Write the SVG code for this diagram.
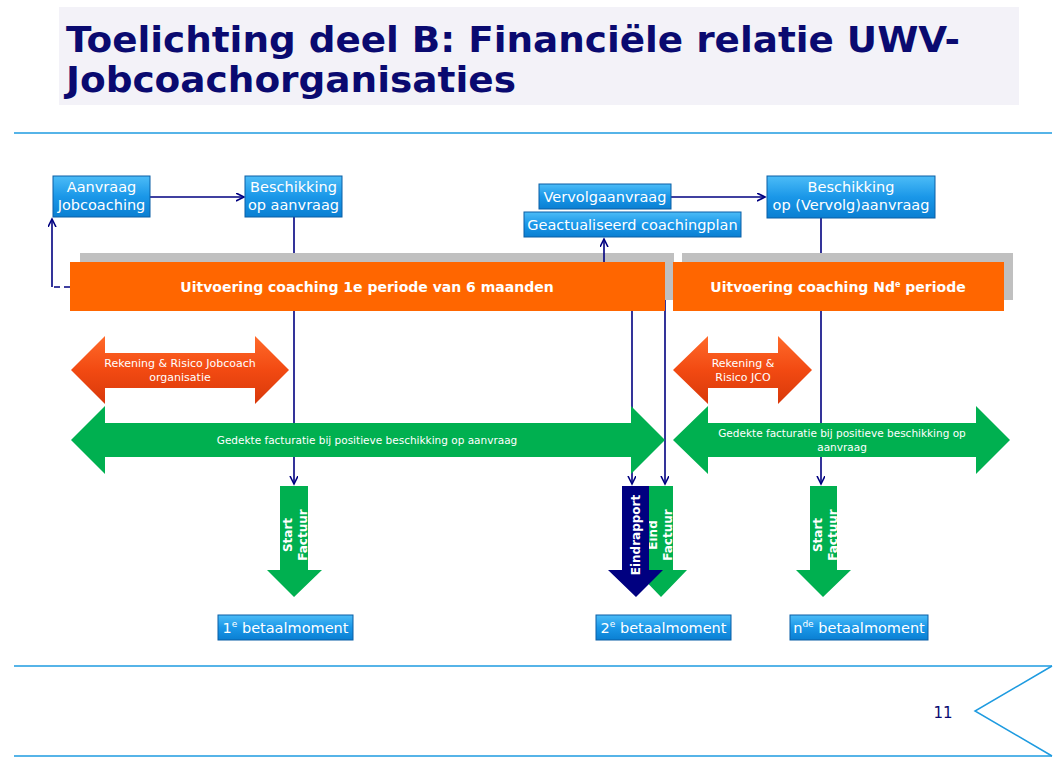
<svg xmlns="http://www.w3.org/2000/svg" width="1063" height="776" viewBox="0 0 1063 776">
<style>
.title{font-family:"DejaVu Sans",Verdana,sans-serif;font-weight:bold;font-size:36px;fill:#0a0a70}
.bt{font-family:"DejaVu Sans",Verdana,sans-serif;font-size:14.5px;fill:#fff;text-anchor:middle}
.ot{font-family:"DejaVu Sans",Verdana,sans-serif;font-size:14px;font-weight:bold;fill:#fff;text-anchor:middle}
.st{font-family:"DejaVu Sans",Verdana,sans-serif;font-size:11px;fill:#fff;text-anchor:middle}
.gt{font-family:"DejaVu Sans",Verdana,sans-serif;font-size:10.5px;fill:#fff;text-anchor:middle}
.vt{font-family:"DejaVu Sans",Verdana,sans-serif;font-size:12px;font-weight:bold;fill:#fff;text-anchor:middle}
.box{fill:url(#blue);stroke:#0b5fa5;stroke-width:1}
.con{stroke:#000080;stroke-width:1.6;fill:none}
.rule{stroke:#1e9be0;stroke-width:1.5;fill:none}
.green{fill:#00b050}
.orange{fill:url(#org)}
</style>
<defs>
<linearGradient id="blue" x1="0" y1="0" x2="0" y2="1">
<stop offset="0" stop-color="#4cbcf7"/>
<stop offset="0.5" stop-color="#1a97e8"/>
<stop offset="1" stop-color="#0a7fd2"/>
</linearGradient>
<linearGradient id="org" x1="0" y1="0" x2="0" y2="1">
<stop offset="0" stop-color="#ff6a2a"/>
<stop offset="0.5" stop-color="#f24a12"/>
<stop offset="1" stop-color="#d8380a"/>
</linearGradient>
<marker id="arr" markerWidth="10" markerHeight="10" refX="8" refY="4" orient="auto" markerUnits="userSpaceOnUse">
<path d="M0,0 L8,4 L0,8" fill="none" stroke="#000080" stroke-width="1.6"/>
</marker>
</defs>

<g id="title">
<rect x="59" y="7" width="960" height="98" fill="#f3f2f8"/>
<text class="title" x="66" y="52" textLength="894" lengthAdjust="spacingAndGlyphs">Toelichting deel B: Financiële relatie UWV-</text>
<text class="title" x="66" y="92" textLength="450" lengthAdjust="spacingAndGlyphs">Jobcoachorganisaties</text>
</g>

<g id="frame">
<line class="rule" x1="14" y1="133" x2="1052" y2="133"/>
<line class="rule" x1="14" y1="666" x2="1052" y2="666"/>
<line class="rule" x1="14" y1="756" x2="1052" y2="756"/>
<polyline class="rule" points="1052,666 975,711 1052,756"/>
<text x="943" y="718" font-family="DejaVu Sans,Verdana,sans-serif" font-size="15" fill="#0a0a70" text-anchor="middle">11</text>
</g>

<g id="connectors">
<line class="con" x1="294" y1="217" x2="294" y2="484" marker-end="url(#arr)"/>
<line class="con" x1="821" y1="218" x2="821" y2="484" marker-end="url(#arr)"/>
<line class="con" x1="632" y1="300" x2="632" y2="484" marker-end="url(#arr)"/>
<line class="con" x1="665" y1="300" x2="665" y2="484" marker-end="url(#arr)"/>
</g>

<g id="bar1">
<rect x="80" y="253" width="594" height="47" fill="#c0c0c0"/>
<rect x="70" y="262" width="595" height="49" fill="#ff6600"/>
<text class="ot" x="367" y="292">Uitvoering coaching 1e periode van 6 maanden</text>
</g>
<g id="bar2">
<rect x="682" y="253" width="331" height="47" fill="#c0c0c0"/>
<rect x="673" y="262" width="331" height="49" fill="#ff6600"/>
<text class="ot" x="838" y="292">Uitvoering coaching Nd<tspan font-size="8" dy="-5">e</tspan><tspan dy="5">  periode</tspan></text>
</g>

<g id="connectors2">
<line class="con" x1="150" y1="197" x2="244" y2="197" marker-end="url(#arr)"/>
<line class="con" x1="671" y1="197" x2="765" y2="197" marker-end="url(#arr)"/>
<line class="con" x1="604" y1="262" x2="604" y2="239" marker-end="url(#arr)"/>
<line class="con" x1="70" y1="287" x2="52" y2="287" stroke-dasharray="6,4"/>
<line class="con" x1="52" y1="287" x2="52" y2="219" marker-end="url(#arr)"/>
</g>

<g id="aanvraag">
<rect class="box" x="53" y="176" width="97" height="41"/>
<text class="bt" x="101.5" y="192">Aanvraag</text>
<text class="bt" x="101.5" y="210">Jobcoaching</text>
</g>
<g id="beschikking1">
<rect class="box" x="245" y="176" width="97" height="41"/>
<text class="bt" x="293.5" y="192">Beschikking</text>
<text class="bt" x="293.5" y="210">op aanvraag</text>
</g>
<g id="vervolgaanvraag">
<rect class="box" x="539" y="184" width="132" height="25"/>
<text class="bt" x="605" y="202">Vervolgaanvraag</text>
</g>
<g id="coachingplan">
<rect class="box" x="524" y="212" width="217" height="25"/>
<text class="bt" x="632.5" y="230">Geactualiseerd coachingplan</text>
</g>
<g id="beschikking2">
<rect class="box" x="767" y="176" width="168" height="42"/>
<text class="bt" x="851" y="192">Beschikking</text>
<text class="bt" x="851" y="210">op (Vervolg)aanvraag</text>
</g>

<g id="risico1">
<polygon class="orange" points="71,370 105,336 105,353 255,353 255,336 289,370 255,404 255,388 105,388 105,404"/>
<text class="st" x="180" y="367">Rekening &amp; Risico Jobcoach</text>
<text class="st" x="180" y="381">organisatie</text>
</g>
<g id="risico2">
<polygon class="orange" points="673,370 708,336 708,353 778,353 778,336 812,370 778,404 778,388 708,388 708,404"/>
<text class="st" x="743" y="367">Rekening &amp;</text>
<text class="st" x="743" y="381">Risico JCO</text>
</g>

<g id="gedekt1">
<polygon class="green" points="71,440 105,406 105,423 631,423 631,406 665,440 631,474 631,457 105,457 105,474"/>
<text class="gt" x="367" y="444">Gedekte facturatie bij positieve beschikking op aanvraag</text>
</g>
<g id="gedekt2">
<polygon class="green" points="673,440 708,406 708,423 976,423 976,406 1010,440 976,474 976,457 708,457 708,474"/>
<text class="gt" x="842" y="437">Gedekte facturatie bij positieve beschikking op</text>
<text class="gt" x="842" y="451">aanvraag</text>
</g>

<g id="startfactuur1">
<polygon class="green" points="280,486 308,486 308,570 322,570 294,597 267,570 280,570"/>
<text class="vt" transform="translate(292,535) rotate(-90)">Start</text>
<text class="vt" transform="translate(307,535) rotate(-90)">Factuur</text>
</g>
<g id="eindfactuur">
<polygon class="green" points="649,486 673,486 673,570 687,570 661,597 635,570 649,570"/>
<text class="vt" transform="translate(657,535) rotate(-90)">Eind</text>
<text class="vt" transform="translate(672,535) rotate(-90)">Factuur</text>
</g>
<g id="eindrapport">
<polygon fill="#000080" points="622,486 649,486 649,570 663,570 636,597 608,570 622,570"/>
<text class="vt" transform="translate(640,535) rotate(-90)">Eindrapport</text>
</g>
<g id="startfactuur2">
<polygon class="green" points="810,486 837,486 837,570 851,570 823,597 796,570 810,570"/>
<text class="vt" transform="translate(822,535) rotate(-90)">Start</text>
<text class="vt" transform="translate(837,535) rotate(-90)">Factuur</text>
</g>

<g id="betaal1">
<rect class="box" x="218" y="615" width="135" height="25"/>
<text class="bt" x="285.5" y="633">1<tspan font-size="9" dy="-6">e</tspan><tspan dy="6"> betaalmoment</tspan></text>
</g>
<g id="betaal2">
<rect class="box" x="596" y="615" width="135" height="25"/>
<text class="bt" x="663.5" y="633">2<tspan font-size="9" dy="-6">e</tspan><tspan dy="6"> betaalmoment</tspan></text>
</g>
<g id="betaal3">
<rect class="box" x="790" y="615" width="138" height="25"/>
<text class="bt" x="859" y="633">n<tspan font-size="9" dy="-6">de</tspan><tspan dy="6"> betaalmoment</tspan></text>
</g>
</svg>
